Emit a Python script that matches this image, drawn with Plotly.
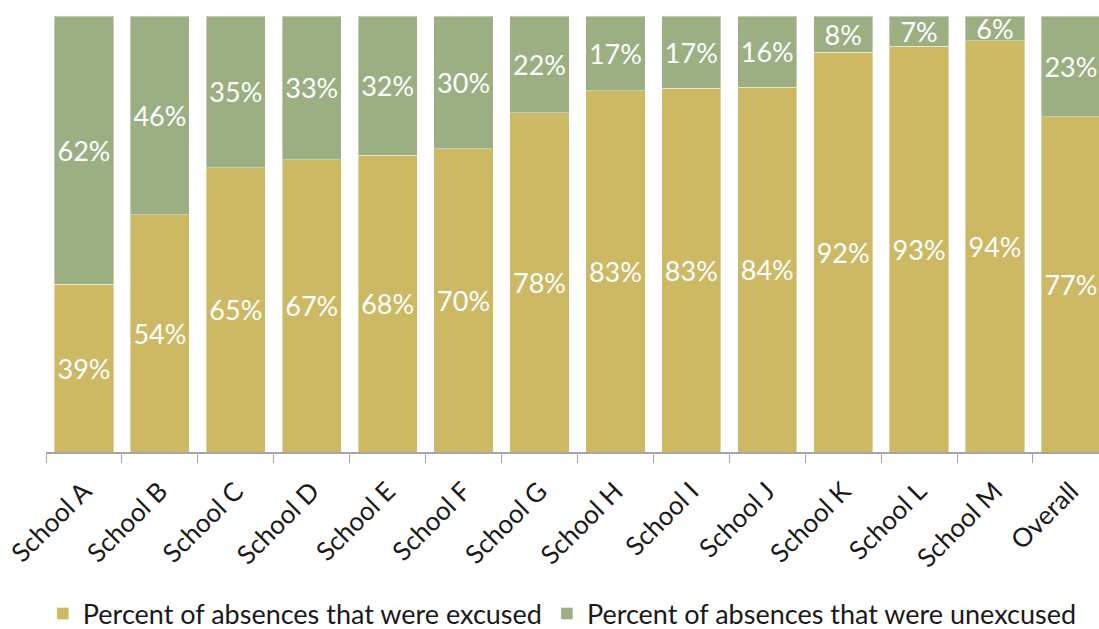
import plotly.graph_objects as go

categories = ["School A", "School B", "School C", "School D", "School E", "School F", "School G",
              "School H", "School I", "School J", "School K", "School L", "School M", "Overall"]
excused = [38.5, 54.4, 65.2, 67.0, 68.1, 69.6, 77.8, 82.8, 83.4, 83.7, 91.7, 93.1, 94.3, 76.9]
unexcused = [61.5, 45.6, 34.8, 33.0, 31.9, 30.4, 22.2, 17.2, 16.6, 16.3, 8.3, 6.9, 5.7, 23.1]
excused_labels = ["39%", "54%", "65%", "67%", "68%", "70%", "78%", "83%", "83%", "84%", "92%", "93%", "94%", "77%"]
unexcused_labels = ["62%", "46%", "35%", "33%", "32%", "30%", "22%", "17%", "17%", "16%", "8%", "7%", "6%", "23%"]

FONT = "Lato"
GOLD = "#CDB864"
GREEN = "#9BAF82"
TXT = "#1a1a1a"

fig = go.Figure()
fig.add_trace(go.Bar(
    x=categories, y=excused, name="Percent of absences that were excused",
    marker=dict(color=GOLD, line=dict(color="rgba(255,255,255,0.4)", width=1)),
    text=excused_labels, textposition="inside", insidetextanchor="middle",
    textfont=dict(color="white", size=27, family=FONT), constraintext="none",
    hoverinfo="skip",
))
fig.add_trace(go.Bar(
    x=categories, y=unexcused, name="Percent of absences that were unexcused",
    marker=dict(color=GREEN, line=dict(color="rgba(255,255,255,0.4)", width=1)),
    text=unexcused_labels, textposition="inside", insidetextanchor="middle",
    textfont=dict(color="white", size=27, family=FONT), constraintext="none",
    hoverinfo="skip",
))

fig.update_layout(
    barmode="stack",
    bargap=0.22,
    width=1099, height=629,
    margin=dict(l=46, r=0, t=16, b=177),
    plot_bgcolor="white", paper_bgcolor="white",
    font=dict(family=FONT, size=26, color=TXT),
    showlegend=True,
    legend=dict(orientation="h", xref="container", yref="container",
                x=0.039, xanchor="left", y=0.024, yanchor="middle",
                font=dict(size=27, family=FONT, color=TXT),
                traceorder="normal"),
    uniformtext=dict(mode=False),
)
fig.update_xaxes(
    range=[-0.5, 13.37], showline=True, linecolor="#a6a6a6", linewidth=1.5,
    ticks="outside", tickson="boundaries", ticklen=9, tickcolor="#a6a6a6",
    tickangle=-45, tickfont=dict(size=26, family=FONT, color=TXT),
    ticklabelstandoff=12,
    showgrid=False,
)
fig.update_yaxes(range=[0, 100], visible=False, showgrid=False)

fig.write_html("out.html", config={"displayModeBar": False},
               post_script="document.body.style.margin='0';document.body.style.overflow='hidden';")
